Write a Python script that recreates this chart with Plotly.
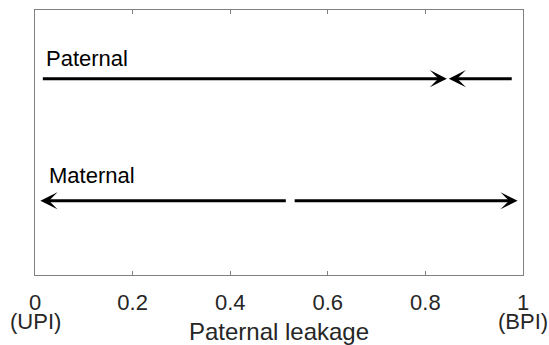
import plotly.graph_objects as go

# Data
tick_vals = [0, 0.2, 0.4, 0.6, 0.8, 1.0]
tick_text = ["0", "0.2", "0.4", "0.6", "0.8", "1"]
end_labels = ["(UPI)", "(BPI)"]
end_label_x = [0, 1]

row_names = ["Paternal", "Maternal"]
row_y = [0.741, 0.28]
row_label_x = [0.018, 0.024]
row_label_y = [0.817, 0.376]

# arrows: (tail_x, tip_x) per row
paternal_tails = [0.013, 0.980]
paternal_tips = [0.844, 0.848]
maternal_tails = [0.517, 0.529]
maternal_tips = [0.011, 0.989]

FONT = "Liberation Sans, Arial, sans-serif"

fig = go.Figure()
fig.add_trace(go.Scatter(x=[0, 1], y=[0, 1], mode="markers",
                         marker=dict(opacity=0), hoverinfo="skip", showlegend=False))

annotations = []
for tails, tips, yv in [(paternal_tails, paternal_tips, row_y[0]),
                        (maternal_tails, maternal_tips, row_y[1])]:
    for t0, t1 in zip(tails, tips):
        annotations.append(dict(
            x=t1, y=yv, ax=t0, ay=yv, xref="x", yref="y", axref="x", ayref="y",
            text="", showarrow=True, arrowhead=3, arrowsize=0.95, arrowwidth=3,
            arrowcolor="black", standoff=0))

for name, lx, ly in zip(row_names, row_label_x, row_label_y):
    annotations.append(dict(x=lx, y=ly, xref="x", yref="y", text=name, showarrow=False,
                            xanchor="left", yanchor="middle",
                            font=dict(family=FONT, size=22, color="black")))

for lab, lx in zip(end_labels, end_label_x):
    annotations.append(dict(x=lx, y=-0.175, xref="x", yref="paper", text=lab,
                            showarrow=False, xanchor="center", yanchor="middle",
                            font=dict(family=FONT, size=22, color="#262626")))

fig.update_layout(
    width=549, height=345,
    margin=dict(l=35, r=26, t=10, b=70),
    paper_bgcolor="white", plot_bgcolor="white",
    showlegend=False,
    annotations=annotations,
    xaxis=dict(range=[0, 1], tickvals=tick_vals, ticktext=tick_text,
               automargin=False,
               ticks="inside", ticklen=4, tickcolor="#808080", tickwidth=1,
               ticklabelstandoff=8,
               showline=True, linecolor="#808080", linewidth=1, mirror="ticks",
               showgrid=False, zeroline=False,
               tickfont=dict(family=FONT, size=22, color="#262626"),
               title=dict(text="Paternal leakage", standoff=15,
                          font=dict(family=FONT, size=24, color="#262626"))),
    yaxis=dict(range=[0, 1], showticklabels=False, ticks="", automargin=False,
               showline=True, linecolor="#808080", linewidth=1, mirror=True,
               showgrid=False, zeroline=False),
)

fig.write_html("out.html", config={"displayModeBar": False},
               post_script="document.body.style.margin='0';")
